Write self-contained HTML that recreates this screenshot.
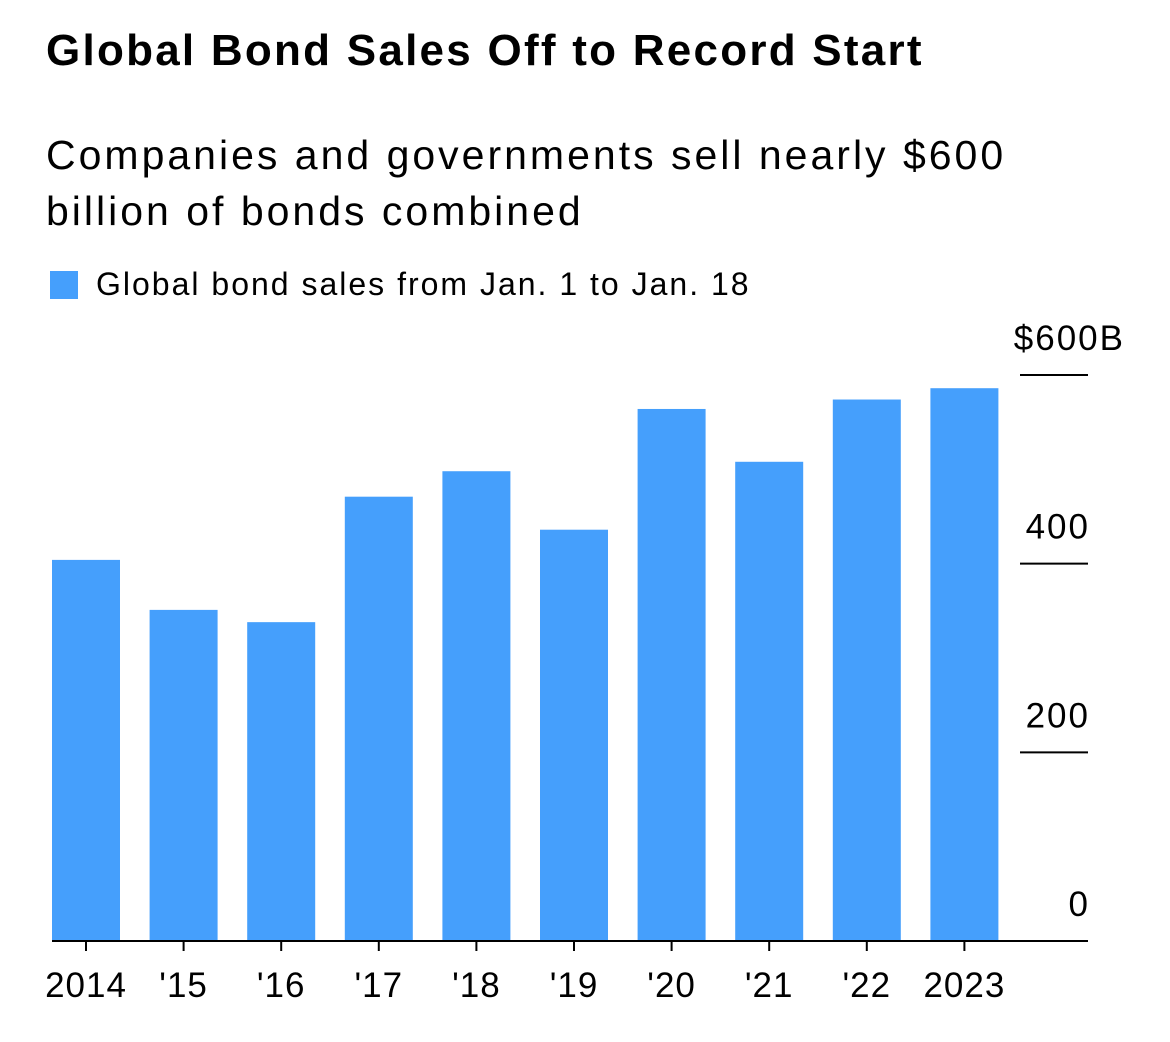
<!DOCTYPE html>
<html><head><meta charset="utf-8"><style>
body{margin:0;background:#fff;width:1170px;height:1042px;overflow:hidden;font-family:"Liberation Sans",sans-serif;color:#000}
.t{position:absolute;left:46px;top:26px;font-size:44px;font-weight:bold;letter-spacing:2.25px;white-space:nowrap}
.s{position:absolute;left:46px;top:127px;font-size:41px;line-height:56px;letter-spacing:3px;white-space:nowrap}
.l{position:absolute;left:50px;top:266px;font-size:32px;letter-spacing:2px;display:flex;align-items:center;white-space:nowrap}
.l span.sw{width:28px;height:28px;background:#459ffc;margin-right:18px;display:inline-block}
svg{position:absolute;left:0;top:0}
</style></head><body>
<div class="t">Global Bond Sales Off to Record Start</div>
<div class="s">Companies and governments sell nearly $600<br>billion of bonds combined</div>
<div class="l"><span class="sw"></span>Global bond sales from Jan. 1 to Jan. 18</div>
<svg id="c" width="1170" height="1042"></svg>
<script>
const categories=["2014","'15","'16","'17","'18","'19","'20","'21","'22","2023"];
const values=[404,351,338,471,498,436,564,508,574,586];
const yTicks=[0,200,400,600];
const yTickLabels=["0","200","400","$600B"];
const svg=document.getElementById('c');
const NS='http://www.w3.org/2000/svg';
const y0=941,ppu=566/600;
const y=v=>y0-v*ppu;
const x=i=>52+i*97.6;
const bw=68;
function mk(t,a){const e=document.createElementNS(NS,t);for(const k in a)e.setAttribute(k,a[k]);svg.appendChild(e);return e;}
values.forEach((v,i)=>{
 const r=mk('rect',{x:x(i),y:y(v),width:bw,height:y0-y(v),fill:'#459ffc'});
 
 
 const tk=mk('line',{x1:x(i)+bw/2,x2:x(i)+bw/2,y1:y0,y2:y0+10,stroke:'#000','stroke-width':2});
 
 
 const t=mk('text',{x:x(i)+bw/2,y:997,'text-anchor':'middle','font-size':35,'letter-spacing':1,'font-family':'Liberation Sans'});
 t.textContent=categories[i];
 
 
});
yTicks.forEach((v,i)=>{
 if(v>0){const g=mk('line',{x1:1020,x2:1088,y1:y(v),y2:y(v),stroke:'#000','stroke-width':2});
 
 }
 const top=i===yTicks.length-1;
 const t=mk('text',{x:top?1125:1090,y:y(v)-25,'text-anchor':'end','font-size':35,'letter-spacing':2,'font-family':'Liberation Sans'});
 t.textContent=yTickLabels[i];
 
 
});
const b=mk('line',{x1:52,x2:1088,y1:y0,y2:y0,stroke:'#000','stroke-width':2});


</script>
</body></html>
